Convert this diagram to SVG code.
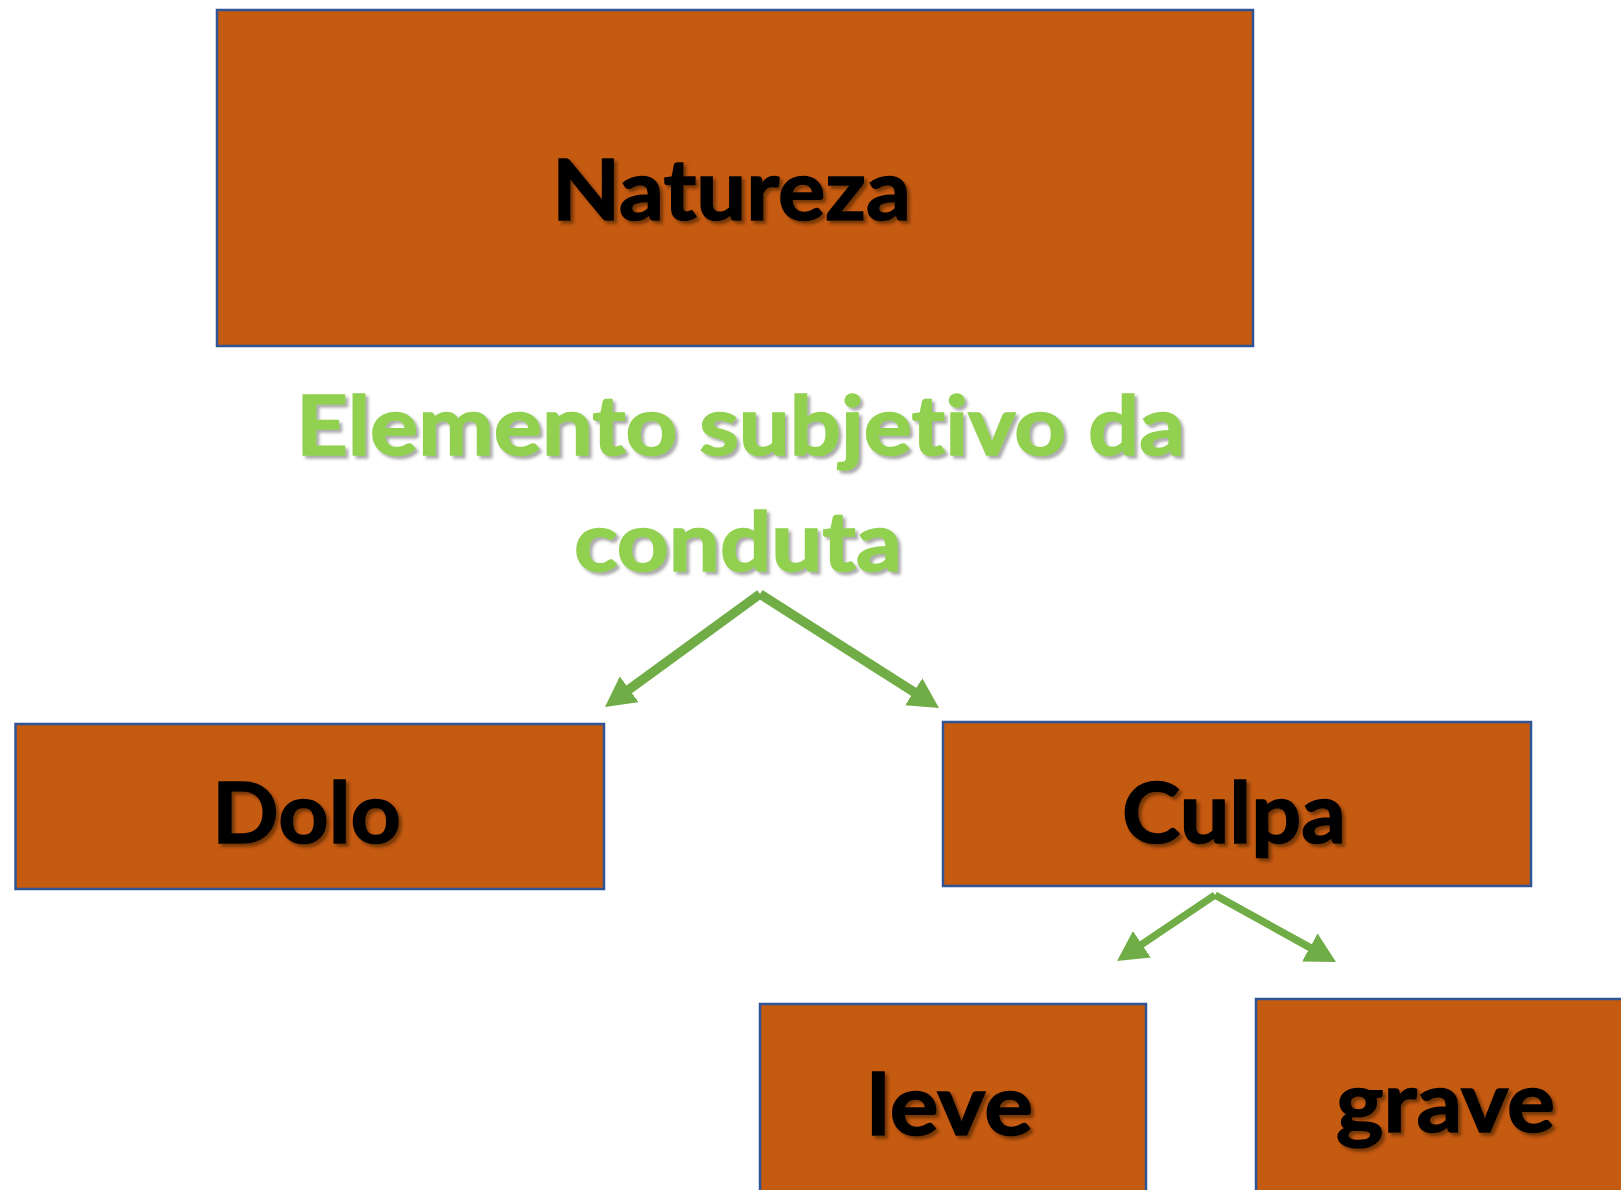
<svg xmlns="http://www.w3.org/2000/svg" width="1621" height="1190" viewBox="0 0 1621 1190">
<defs>
<style>
.box{fill:#C55A11;stroke:#2F5597;stroke-width:2.5}
.lbl{font-family:Lato,"Open Sans","Liberation Sans",sans-serif;font-weight:bold;font-size:85px;fill:#000;stroke:#000;stroke-width:1.5;text-anchor:middle;font-variant-ligatures:none;filter:url(#sh)}
.grn{font-family:Lato,"Open Sans","Liberation Sans",sans-serif;font-weight:bold;font-size:83px;fill:#92D050;stroke:#92D050;stroke-width:1.5;text-anchor:middle;font-variant-ligatures:none;filter:url(#sh2)}
.arr{stroke:#70AD47;fill:none;marker-end:url(#ah)}
</style>
<filter id="sh" x="-10%" y="-20%" width="120%" height="140%">
<feDropShadow dx="3" dy="3" stdDeviation="1.5" flood-color="#3a1a00" flood-opacity="0.6"/>
</filter>
<filter id="sh2" x="-10%" y="-20%" width="120%" height="140%">
<feDropShadow dx="3" dy="3" stdDeviation="1.5" flood-color="#555" flood-opacity="0.5"/>
</filter>
<marker id="ah" viewBox="0 0 30 32" refX="4" refY="16" markerWidth="30" markerHeight="32" markerUnits="userSpaceOnUse" orient="auto">
<path d="M0,0 L30,16 L0,32 z" fill="#70AD47"/>
</marker>
</defs>
<rect width="1621" height="1190" fill="#fff"/>
<g id="natureza">
<rect class="box" x="217" y="10" width="1036" height="336"/>
<text class="lbl" x="731.5" y="220" textLength="359" lengthAdjust="spacingAndGlyphs">Natureza</text>
</g>
<g id="elemento">
<text class="grn" x="740.5" y="455" textLength="889" lengthAdjust="spacingAndGlyphs">Elemento subjetivo da</text>
<text class="grn" x="738" y="571" textLength="328" lengthAdjust="spacingAndGlyphs">conduta</text>
</g>
<g id="dolo">
<rect class="box" x="15.5" y="724" width="588.5" height="165"/>
<text class="lbl" x="306.5" y="843" textLength="189" lengthAdjust="spacingAndGlyphs">Dolo</text>
</g>
<g id="culpa">
<rect class="box" x="943" y="722" width="588" height="164"/>
<text class="lbl" x="1234" y="843" textLength="224" lengthAdjust="spacingAndGlyphs">Culpa</text>
</g>
<g id="leve">
<rect class="box" x="760" y="1004" width="386" height="300"/>
<text class="lbl" x="950" y="1135" textLength="166" lengthAdjust="spacingAndGlyphs">leve</text>
</g>
<g id="grave">
<rect class="box" x="1256" y="999" width="400" height="300"/>
<text class="lbl" x="1445.5" y="1132" textLength="219" lengthAdjust="spacingAndGlyphs">grave</text>
</g>
<g id="connectors">
<line class="arr" x1="760" y1="594" x2="626" y2="691.7" stroke-width="9.5"/>
<line class="arr" x1="760" y1="594" x2="917.1" y2="694" stroke-width="9.5"/>
<line class="arr" x1="1215" y1="895" x2="1138.6" y2="946.5" stroke-width="7.5"/>
<line class="arr" x1="1215" y1="895" x2="1313.3" y2="949.4" stroke-width="7.5"/>
</g>
</svg>
